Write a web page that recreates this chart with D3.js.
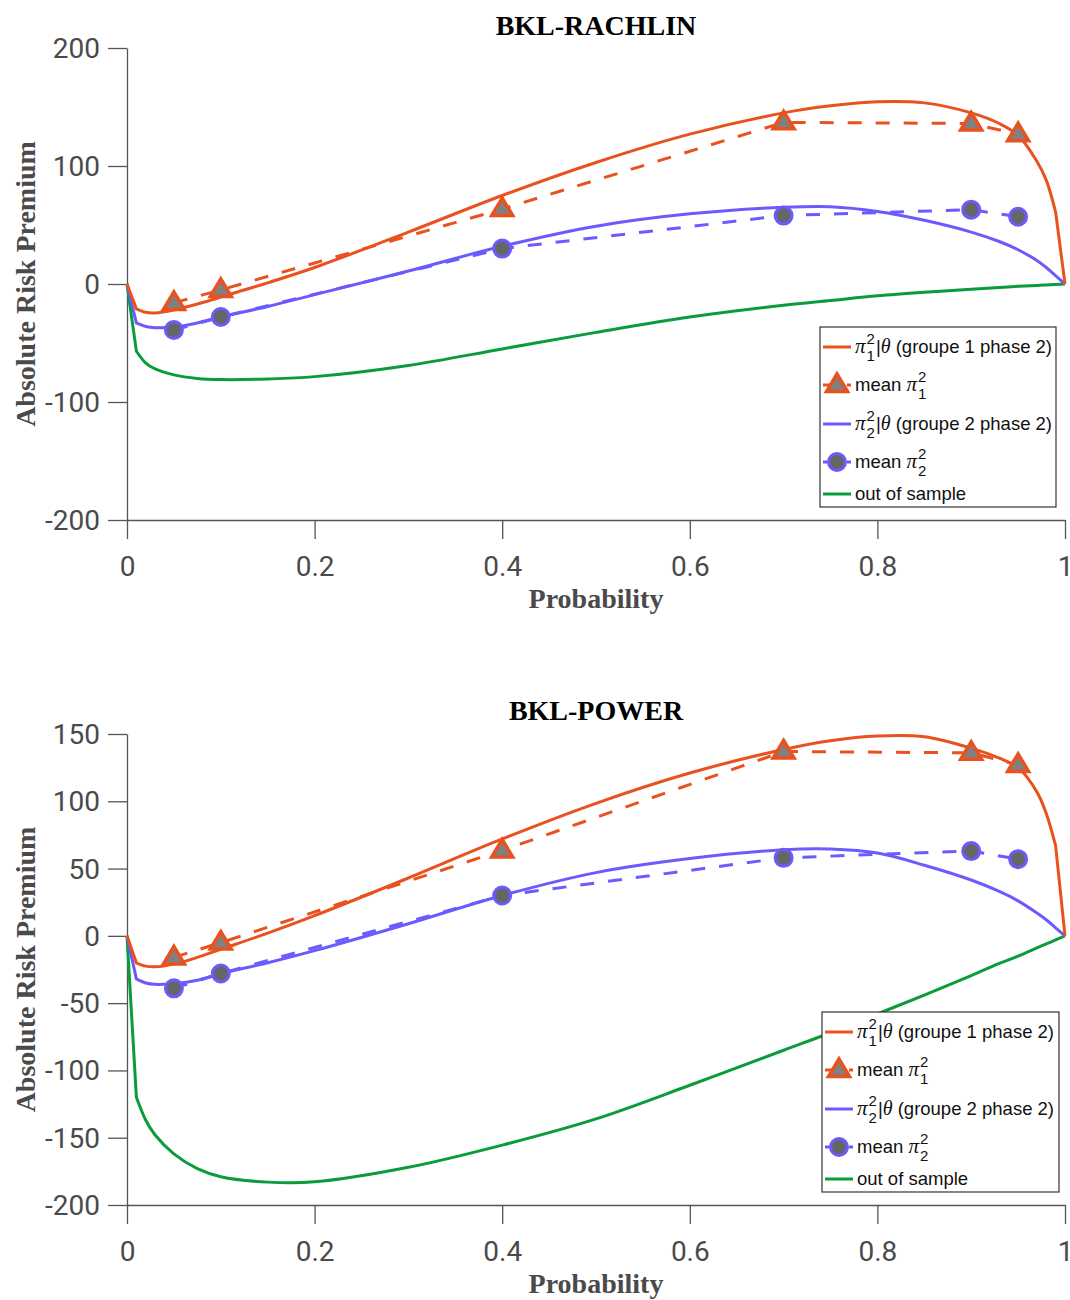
<!DOCTYPE html>
<html><head><meta charset="utf-8">
<script src="https://cdn.jsdelivr.net/npm/d3@7"></script>
<style>body{margin:0;background:#fff} svg{display:block}</style>
</head><body><svg id="c" width="1070" height="1300"></svg>
<script>
// ---------- DATA ----------
const prob = [0,0.01,0.02,0.03,0.05,0.075,0.1,0.15,0.2,0.3,0.4,0.5,0.6,0.7,0.75,0.8,0.85,0.9,0.93,0.95,0.97,0.98,0.99,1];
const rachlinPi1 = [0,-21,-24,-24.5,-22,-17,-11,1,14,44,75,103,127,145,151,154.5,153.5,145,136,126,104,88,61,0];
const rachlinPi2 = [0,-33,-36,-37,-36.5,-33,-28,-19,-9,11,32,49,59.5,65,65.5,61.5,54,44,36,29,20,14,7,0];
const rachlinOut = [0,-57,-67,-72,-77,-80,-81,-80.5,-78.5,-69,-55,-41,-28,-18,-14,-10,-7,-4.5,-3,-2,-1.2,-0.8,-0.4,0];
const powerPi1 = [0,-20,-22.5,-23,-21,-16,-10,2,15,43,72,98.5,121,138.5,145,148.5,148,139.5,132,125,107,91,67,0];
const powerPi2 = [0,-32,-35,-36,-35.5,-33,-28,-20,-11,9,30,47,57.5,64,64.5,61.5,52.5,41.5,33,26,17,12,6,0];
const powerOut = [0,-120,-137,-148,-162,-173,-179,-183,-182.8,-172,-155.5,-136,-111,-85,-72,-58,-44,-29.5,-20.5,-15,-9,-6,-3,0];

const markerProb = [0.05,0.1,0.4,0.7,0.9,0.95];
const rachlinMean1 = [-16,-5,63.5,137,136,127];
const rachlinMean2 = [-39,-28,30,58,63,57];
const powerMean1 = [-16,-5,63.5,137,136,127];
const powerMean2 = [-39,-28,30,58,63,57];

const xTicks = [0,0.2,0.4,0.6,0.8,1];
const xTickLabels = ['0','0.2','0.4','0.6','0.8','1'];
const rachlinYTicks = [-200,-100,0,100,200];
const powerYTicks = [-200,-150,-100,-50,0,50,100,150];

const titles = ['BKL-RACHLIN','BKL-POWER'];
const xLabel = 'Probability';
const yLabel = 'Absolute Risk Premium';

// ---------- STYLE ----------
const C1 = '#E9521F', C2 = '#6B5BFF', C3 = '#0B9B3B';
const AX = '#555555', TXT = '#4a4a4a';
const svg = d3.select('#c');

function triPath(){ return 'M0,-11 L10.5,6.5 L-10.5,6.5 Z'; }

function panel(cfg){
  const x = d3.scaleLinear().domain([0,1]).range([127,1065]);
  const y = d3.scaleLinear().domain(cfg.yDomain).range([cfg.yBottom, cfg.yTop]);
  const g = svg.append('g');

  const xa = g.append('g').attr('transform',`translate(0,${cfg.yBottom})`)
    .call(d3.axisBottom(x).tickValues(xTicks).tickFormat((d,i)=>xTickLabels[i]).tickSize(19).tickSizeOuter(0));
  const ya = g.append('g').attr('transform','translate(127,0)')
    .call(d3.axisLeft(y).tickValues(cfg.yTicks).tickFormat(d=>String(d)).tickSize(19).tickSizeOuter(0));
  [xa,ya].forEach(a=>{
    a.select('.domain').attr('stroke',AX).attr('stroke-width',1.3);
    a.selectAll('.tick line').attr('stroke',AX).attr('stroke-width',1.3);
    a.selectAll('.tick text').attr('fill',TXT).style('font-family','Roboto, "Liberation Sans", sans-serif').style('font-size','28px');
  });
  xa.selectAll('.tick text').attr('y',56).attr('dy',0);
  ya.selectAll('.tick text').attr('x',-27).attr('dy','0.34em');

  // title & labels
  g.append('text').attr('x',596).attr('y',cfg.titleY).attr('text-anchor','middle')
    .style('font-family','"Liberation Serif", "Times New Roman", serif').style('font-weight','bold').style('font-size','28px')
    .attr('fill','#000').text(cfg.title);
  g.append('text').attr('x',596).attr('y',cfg.yBottom+88).attr('text-anchor','middle')
    .style('font-family','"Liberation Serif", "Times New Roman", serif').style('font-weight','bold').style('font-size','28px')
    .attr('fill',TXT).text(xLabel);
  g.append('text').attr('transform',`translate(35,${(cfg.yBottom+cfg.yTop)/2}) rotate(-90)`).attr('text-anchor','middle')
    .style('font-family','"Liberation Serif", "Times New Roman", serif').style('font-weight','bold').style('font-size','28px')
    .attr('fill',TXT).text(yLabel);

  // smooth interior, straight first & last segment
  const cr = d3.line().x(d=>x(d[0])).y(d=>y(d[1])).curve(d3.curveCatmullRom.alpha(0.5));
  function curvePath(vals){
    const pts = prob.map((p,i)=>[p,vals[i]]);
    const inner = cr(pts.slice(1,-1));
    const a = pts[0], b = pts[pts.length-1];
    return `M${x(a[0])},${y(a[1])}L` + inner.slice(1) + `L${x(b[0])},${y(b[1])}`;
  }
  const straight = d3.line().x((d,i)=>x(markerProb[i])).y(d=>y(d));

  g.append('path').attr('d',curvePath(cfg.out)).attr('fill','none').attr('stroke',C3).attr('stroke-width',3);
  g.append('path').attr('d',curvePath(cfg.pi2)).attr('fill','none').attr('stroke',C2).attr('stroke-width',3);
  g.append('path').attr('d',curvePath(cfg.pi1)).attr('fill','none').attr('stroke',C1).attr('stroke-width',3);
  g.append('path').attr('d',straight(cfg.mean1)).attr('fill','none').attr('stroke',C1).attr('stroke-width',3).attr('stroke-dasharray','14,14');
  g.append('path').attr('d',straight(cfg.mean2)).attr('fill','none').attr('stroke',C2).attr('stroke-width',3).attr('stroke-dasharray','14,14');

  g.selectAll('.tri').data(cfg.mean1).join('path').attr('class','tri')
    .attr('transform',(d,i)=>`translate(${x(markerProb[i])},${y(d)})`)
    .attr('d',triPath()).attr('fill','#808080').attr('stroke',C1).attr('stroke-width',3.5).attr('stroke-linejoin','miter');
  g.selectAll('.cir').data(cfg.mean2).join('circle').attr('class','cir')
    .attr('cx',(d,i)=>x(markerProb[i])).attr('cy',d=>y(d)).attr('r',8.5)
    .attr('fill','#666666').attr('stroke',C2).attr('stroke-width',3);

  // legend
  const lg = g.append('g').attr('transform',`translate(${cfg.legX},${cfg.legY})`);
  lg.append('rect').attr('width',cfg.legW).attr('height',180).attr('fill','#fff').attr('stroke','#333').attr('stroke-width',1.2);
  const rows = [20,58,97,135,167];
  const cols = [C1,C1,C2,C2,C3];
  rows.forEach((r,i)=>{
    const ln = lg.append('line').attr('x1',3).attr('x2',31).attr('y1',r).attr('y2',r).attr('stroke',cols[i]).attr('stroke-width',3);
    if(i===1||i===3) ln.attr('stroke-dasharray','7,5');
  });
  lg.append('path').attr('transform',`translate(17,${rows[1]})`).attr('d',triPath()).attr('fill','#808080').attr('stroke',C1).attr('stroke-width',3.5);
  lg.append('circle').attr('cx',17).attr('cy',rows[3]).attr('r',8.5).attr('fill','#666666').attr('stroke',C2).attr('stroke-width',3);

  const sans = '"Liberation Sans", Arial, sans-serif', serif = '"Liberation Serif", "Times New Roman", serif';
  function piText(r, pre, sub, post){
    const t = lg.append('text').attr('x',35).attr('y',r+6).style('font-family',sans).style('font-size','18.5px').attr('fill','#111');
    if(pre) t.append('tspan').text(pre);
    t.append('tspan').style('font-family',serif).style('font-style','italic').style('font-size','21px').text('π');
    t.append('tspan').attr('dx',1).attr('dy',-9).style('font-size','15px').text('2');
    t.append('tspan').attr('dx',-8.3).attr('dy',17).style('font-size','15px').text(sub);
    if(post){
      t.append('tspan').attr('dx',1).attr('dy',-8).text('|');
      t.append('tspan').style('font-family',serif).style('font-style','italic').style('font-size','20px').text('θ');
      t.append('tspan').text(post);
    }
  }
  piText(rows[0], null, '1', ' (groupe 1 phase 2)');
  piText(rows[1], 'mean ', '1', null);
  piText(rows[2], null, '2', ' (groupe 2 phase 2)');
  piText(rows[3], 'mean ', '2', null);
  lg.append('text').attr('x',35).attr('y',rows[4]+6).style('font-family',sans).style('font-size','18.5px').attr('fill','#111').text('out of sample');
}

panel({title:titles[0], titleY:35, yDomain:[-200,200], yTicks:rachlinYTicks, yBottom:520, yTop:48,
  pi1:rachlinPi1, pi2:rachlinPi2, out:rachlinOut, mean1:rachlinMean1, mean2:rachlinMean2,
  legX:820, legY:327, legW:236});
panel({title:titles[1], titleY:720, yDomain:[-200,150], yTicks:powerYTicks, yBottom:1205, yTop:734,
  pi1:powerPi1, pi2:powerPi2, out:powerOut, mean1:powerMean1, mean2:powerMean2,
  legX:822, legY:1012, legW:237});
</script></body></html>
